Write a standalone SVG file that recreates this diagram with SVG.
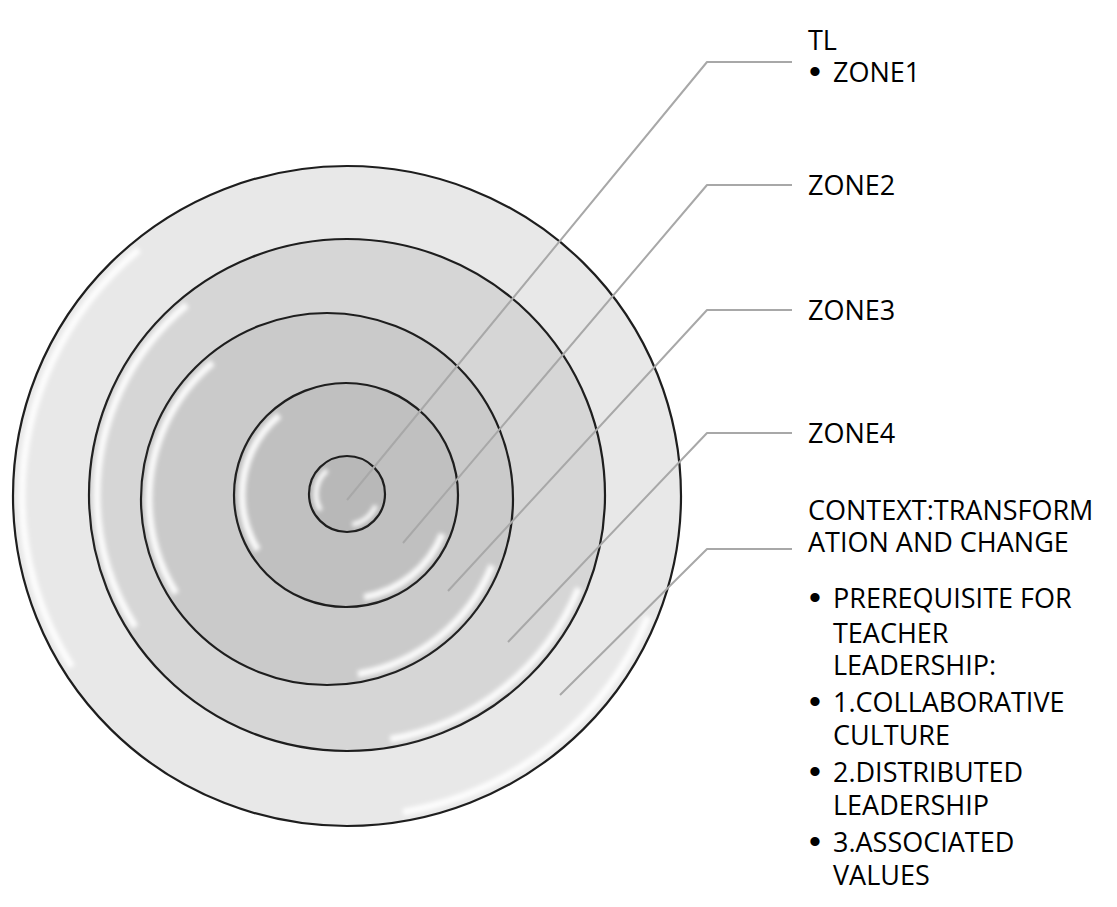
<svg xmlns="http://www.w3.org/2000/svg" width="1117" height="907" viewBox="0 0 1117 907">
  <style>
    .disk { stroke: #1e1e1e; stroke-width: 2.2; }
    .gloss { fill: none; stroke: #ffffff; stroke-width: 7; stroke-opacity: 0.9; stroke-dasharray: 0 22 58 68 82 130; filter: url(#soft); }
    .lead { fill: none; stroke: #a8a8a8; stroke-width: 2; stroke-linejoin: round; }
    .label { font-family: "Open Sans", "Liberation Sans", sans-serif; font-size: 27px; fill: #000000; }
    .bullet { font-family: "Liberation Sans", sans-serif; font-size: 34px; fill: #000000; }
  </style>
  <defs>
    <filter id="soft" x="-10%" y="-10%" width="120%" height="120%">
      <feGaussianBlur stdDeviation="2.2"/>
    </filter>
  </defs>

  <rect width="1117" height="907" fill="#ffffff"/>

  <!-- concentric zones, outermost first -->
  <g id="context-ring">
    <ellipse class="disk" cx="347" cy="496" rx="334" ry="330" fill="#e8e8e8"/>
    <ellipse class="gloss" cx="347" cy="496" rx="325" ry="321" pathLength="360"/>
  </g>
  <g id="zone4-ring">
    <ellipse class="disk" cx="347" cy="495" rx="258" ry="256" fill="#d6d6d6"/>
    <ellipse class="gloss" cx="347" cy="495" rx="250" ry="248" pathLength="360"/>
  </g>
  <g id="zone3-ring">
    <circle class="disk" cx="327" cy="499" r="186" fill="#cacaca"/>
    <circle class="gloss" cx="327" cy="499" r="178" pathLength="360"/>
  </g>
  <g id="zone2-ring">
    <circle class="disk" cx="346" cy="495" r="112" fill="#c0c0c0"/>
    <circle class="gloss" cx="346" cy="495" r="104" pathLength="360"/>
  </g>
  <g id="zone1-core">
    <circle class="disk" cx="347" cy="494" r="38" fill="#b8b8b8"/>
    <circle class="gloss" cx="347" cy="494" r="31" pathLength="360" style="stroke-width:5"/>
  </g>

  <!-- leader lines from each zone to its label -->
  <g id="connectors">
    <polyline class="lead" points="347,500 707,62 792,62"/>
    <polyline class="lead" points="403,543 707,185 792,185"/>
    <polyline class="lead" points="448,591 707,310 792,310"/>
    <polyline class="lead" points="508,642 707,433 792,433"/>
    <polyline class="lead" points="560,695 707,549 792,549"/>
  </g>

  <!-- labels -->
  <g id="label-tl">
    <text class="label" x="808" y="50">TL</text>
    <text class="bullet" x="809" y="83">•</text>
    <text class="label" x="833" y="82">ZONE1</text>
  </g>
  <g id="label-zone2">
    <text class="label" x="808" y="195">ZONE2</text>
  </g>
  <g id="label-zone3">
    <text class="label" x="808" y="320">ZONE3</text>
  </g>
  <g id="label-zone4">
    <text class="label" x="808" y="443">ZONE4</text>
  </g>
  <g id="label-context">
    <text class="label" x="808" y="520">CONTEXT:TRANSFORM</text>
    <text class="label" x="808" y="552">ATION AND CHANGE</text>
    <text class="bullet" x="809" y="609">•</text>
    <text class="label" x="833" y="608">PREREQUISITE FOR</text>
    <text class="label" x="833" y="643">TEACHER</text>
    <text class="label" x="833" y="675">LEADERSHIP:</text>
    <text class="bullet" x="809" y="713">•</text>
    <text class="label" x="833" y="712">1.COLLABORATIVE</text>
    <text class="label" x="833" y="745">CULTURE</text>
    <text class="bullet" x="809" y="783">•</text>
    <text class="label" x="833" y="782">2.DISTRIBUTED</text>
    <text class="label" x="833" y="815">LEADERSHIP</text>
    <text class="bullet" x="809" y="853">•</text>
    <text class="label" x="833" y="852">3.ASSOCIATED</text>
    <text class="label" x="833" y="885">VALUES</text>
  </g>
</svg>
